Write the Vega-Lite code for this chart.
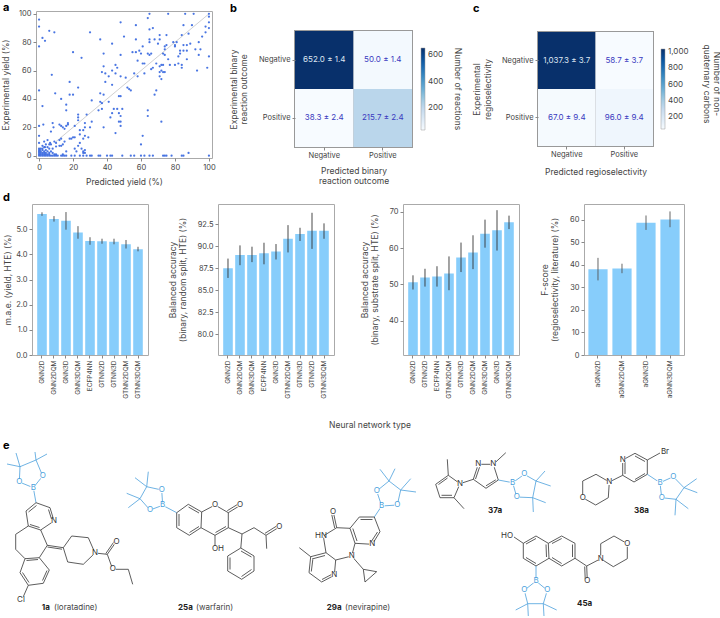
{
"$schema":"https://vega.github.io/schema/vega-lite/v6.json",
"padding":{"left":0,"top":1,"right":0,"bottom":0},
"background":"white",
"resolve":{"scale":{"color":"independent"},"legend":{"color":"independent"}},
"config":{"font":"Inter","view":{"stroke":null},
 "axis":{"labelColor":"#444","titleColor":"#444","tickColor":"#888","domain":false,"grid":false,"labelFontSize":7.5,"titleFontSize":8.5,"titleFontWeight":"normal","tickSize":3,"labelPadding":2,"labelOverlap":false}},
"datasets":{
"scatter":[
{"pred":0,"exp":96},{"pred":0,"exp":91},{"pred":0,"exp":77},{"pred":0,"exp":46},{"pred":0,"exp":21},{"pred":0,"exp":14},{"pred":0,"exp":9},{"pred":0,"exp":5},{"pred":0,"exp":4},{"pred":0,"exp":3},{"pred":0,"exp":2},{"pred":0,"exp":1},{"pred":0,"exp":0},
{"pred":2,"exp":83},{"pred":3.5,"exp":81},{"pred":6,"exp":88},{"pred":9,"exp":87},{"pred":7.5,"exp":57},{"pred":2,"exp":35},{"pred":2.5,"exp":22},{"pred":9.5,"exp":44},
{"pred":8,"exp":23},{"pred":8.5,"exp":20},{"pred":7,"exp":17},{"pred":5,"exp":11},{"pred":6.5,"exp":9},{"pred":9,"exp":10},{"pred":10,"exp":9},{"pred":3,"exp":10},{"pred":4,"exp":8},{"pred":6,"exp":8},{"pred":7,"exp":8},{"pred":2,"exp":7},{"pred":3.5,"exp":6},{"pred":5,"exp":6},{"pred":6,"exp":5},{"pred":8,"exp":5},{"pred":10,"exp":6.5},{"pred":12,"exp":7},{"pred":13,"exp":7},{"pred":14,"exp":8},{"pred":15,"exp":10},{"pred":12,"exp":11},{"pred":13,"exp":12},
{"pred":12,"exp":22},{"pred":13,"exp":21},{"pred":14,"exp":20},{"pred":15,"exp":19},{"pred":16,"exp":21},{"pred":17,"exp":22},{"pred":17,"exp":23},{"pred":13,"exp":40},{"pred":16,"exp":36},{"pred":16,"exp":32},{"pred":18,"exp":43},{"pred":18,"exp":52},{"pred":20,"exp":43},{"pred":21,"exp":21},{"pred":20,"exp":13},{"pred":18,"exp":12},{"pred":19,"exp":12},{"pred":21,"exp":13},{"pred":24,"exp":15},{"pred":26,"exp":12},{"pred":27,"exp":14},{"pred":16,"exp":3},{"pred":14,"exp":1},{"pred":21,"exp":5},{"pred":22,"exp":3},{"pred":23,"exp":7},{"pred":24,"exp":9},{"pred":25,"exp":5},{"pred":26,"exp":2},{"pred":26,"exp":3},{"pred":27,"exp":2},{"pred":27,"exp":4},
{"pred":20,"exp":73},{"pred":25,"exp":69},{"pred":30,"exp":87},{"pred":36,"exp":82},{"pred":43,"exp":79},{"pred":48,"exp":94},{"pred":50,"exp":84},{"pred":57,"exp":92},{"pred":57,"exp":82},
{"pred":23,"exp":29},{"pred":23,"exp":27},{"pred":23,"exp":25},{"pred":28,"exp":29},{"pred":27,"exp":20},{"pred":31,"exp":24},{"pred":30,"exp":20},{"pred":24,"exp":18},{"pred":29,"exp":13},{"pred":26,"exp":18},{"pred":27,"exp":23},{"pred":23,"exp":48},
{"pred":31,"exp":39},{"pred":35,"exp":32},{"pred":36,"exp":38},{"pred":37,"exp":37},{"pred":38,"exp":43},{"pred":36,"exp":44},{"pred":37,"exp":59},{"pred":38,"exp":63},{"pred":38,"exp":72},{"pred":39,"exp":58},{"pred":39,"exp":52},{"pred":41,"exp":56},{"pred":43,"exp":60},{"pred":43,"exp":50},{"pred":45,"exp":64},{"pred":46,"exp":62},{"pred":45,"exp":58},{"pred":48,"exp":71},{"pred":48,"exp":56},{"pred":48,"exp":42},{"pred":47,"exp":42},{"pred":44,"exp":33},{"pred":43,"exp":30},{"pred":42,"exp":27},{"pred":38,"exp":20},{"pred":41,"exp":38},{"pred":37,"exp":33},{"pred":45,"exp":16},{"pred":46,"exp":33},{"pred":47,"exp":30},{"pred":49,"exp":33},{"pred":48,"exp":28},{"pred":47,"exp":24},{"pred":48,"exp":24},{"pred":48,"exp":21},{"pred":52,"exp":48},{"pred":53,"exp":47},{"pred":54,"exp":46},{"pred":51,"exp":55},
{"pred":55,"exp":73},{"pred":57,"exp":73},{"pred":56,"exp":58},{"pred":58,"exp":56},{"pred":59,"exp":74},{"pred":58,"exp":67},{"pred":60,"exp":72},{"pred":61,"exp":77},{"pred":61,"exp":65},{"pred":62,"exp":65},{"pred":62,"exp":58},{"pred":60,"exp":8},{"pred":61,"exp":14},{"pred":64,"exp":32},{"pred":64,"exp":28},{"pred":64,"exp":97},{"pred":65,"exp":100},{"pred":65,"exp":89},{"pred":65,"exp":82},{"pred":65,"exp":80},{"pred":64,"exp":72},{"pred":65,"exp":71},{"pred":66,"exp":72},{"pred":67,"exp":62},{"pred":66,"exp":61},{"pred":68,"exp":82},{"pred":67,"exp":90},{"pred":68,"exp":43},{"pred":69,"exp":46},{"pred":69,"exp":65},{"pred":70,"exp":79},{"pred":71,"exp":59},{"pred":71,"exp":56},{"pred":71,"exp":63},{"pred":72,"exp":64},{"pred":73,"exp":64},{"pred":72,"exp":60},{"pred":73,"exp":59},{"pred":74,"exp":59},{"pred":72,"exp":54},{"pred":72,"exp":24},{"pred":71,"exp":82},{"pred":71,"exp":85},{"pred":73,"exp":72},{"pred":74,"exp":75},{"pred":74,"exp":77},{"pred":75,"exp":78},{"pred":75,"exp":85},{"pred":74,"exp":71},{"pred":76,"exp":100},{"pred":76,"exp":68},{"pred":77,"exp":64},{"pred":79,"exp":80},{"pred":80,"exp":78},{"pred":80,"exp":77},{"pred":81,"exp":80},{"pred":80,"exp":64},{"pred":82,"exp":65},{"pred":82,"exp":70},{"pred":83,"exp":72},{"pred":83,"exp":74},{"pred":84,"exp":64},{"pred":84,"exp":85},{"pred":84,"exp":62},{"pred":85,"exp":92},{"pred":85,"exp":74},{"pred":85,"exp":78},{"pred":87,"exp":68},{"pred":87,"exp":74},{"pred":87,"exp":78},{"pred":88,"exp":86},{"pred":89,"exp":79},{"pred":90,"exp":92},{"pred":91,"exp":100},{"pred":92,"exp":75},{"pred":93,"exp":60},{"pred":94,"exp":80},{"pred":94,"exp":71},{"pred":95,"exp":75},{"pred":96,"exp":84},{"pred":98,"exp":91},{"pred":98,"exp":87},{"pred":99,"exp":62},{"pred":100,"exp":100},{"pred":100,"exp":98},{"pred":100,"exp":94},{"pred":100,"exp":90},{"pred":100,"exp":70},{"pred":86,"exp":100},{"pred":88,"exp":2},
{"pred":1,"exp":1},{"pred":1,"exp":2},{"pred":1,"exp":3},{"pred":2,"exp":1},{"pred":2,"exp":2},{"pred":2,"exp":4},{"pred":3,"exp":1},{"pred":3,"exp":2},{"pred":3,"exp":3},{"pred":4,"exp":1},{"pred":4,"exp":2},{"pred":4,"exp":4},{"pred":5,"exp":1},{"pred":5,"exp":3},{"pred":6,"exp":1},{"pred":6,"exp":2},{"pred":7,"exp":3},{"pred":8,"exp":2},{"pred":9,"exp":1},{"pred":10,"exp":1},{"pred":1,"exp":5},{"pred":2,"exp":5},{"pred":3,"exp":6},{"pred":0.5,"exp":4},
{"pred":1,"exp":0},{"pred":2,"exp":0},{"pred":3,"exp":0},{"pred":4,"exp":0},{"pred":5,"exp":0},{"pred":6,"exp":0},{"pred":7,"exp":0},{"pred":8,"exp":0},{"pred":9,"exp":0},{"pred":10,"exp":0},{"pred":11,"exp":0},{"pred":13,"exp":0},{"pred":14,"exp":0},{"pred":15,"exp":0},{"pred":16,"exp":0},{"pred":19,"exp":0},{"pred":21,"exp":0},{"pred":24,"exp":0},{"pred":26,"exp":0},{"pred":28,"exp":0},{"pred":30,"exp":0},{"pred":31,"exp":0},{"pred":35,"exp":0},{"pred":36,"exp":0},{"pred":40,"exp":0},{"pred":42,"exp":0},{"pred":43,"exp":0},{"pred":49,"exp":0},{"pred":54,"exp":0},{"pred":56,"exp":0},{"pred":60,"exp":0},{"pred":62,"exp":0},{"pred":65,"exp":0},{"pred":67,"exp":0},{"pred":73,"exp":0},{"pred":74,"exp":0},{"pred":75,"exp":0},{"pred":78,"exp":0},{"pred":84,"exp":0},{"pred":85,"exp":0},{"pred":100,"exp":0}
],
"bonds":[
{"x":33.3,"y":486.7,"x2":19.3,"y2":481,"part":"boronate"},{"x":33.3,"y":486.7,"x2":42.7,"y2":475,"part":"boronate"},{"x":19.3,"y":481,"x2":20,"y2":465.7,"part":"boronate"},{"x":42.7,"y":475,"x2":36,"y2":459,"part":"boronate"},{"x":20,"y":465.7,"x2":36,"y2":459,"part":"boronate"},{"x":20,"y":465.7,"x2":7,"y2":463,"part":"boronate"},{"x":20,"y":465.7,"x2":16,"y2":452,"part":"boronate"},{"x":36,"y":459,"x2":47,"y2":453,"part":"boronate"},{"x":36,"y":459,"x2":35,"y2":451,"part":"boronate"},{"x":33.3,"y":486.7,"x2":36,"y2":501.7,"part":"boronate"},
{"x":36,"y":501.7,"x2":50,"y2":506.7,"part":"core"},{"x":50,"y":506.7,"x2":54,"y2":520,"part":"core"},{"x":54,"y":520,"x2":40.7,"y2":529,"part":"core"},{"x":40.7,"y":529,"x2":28.3,"y2":525,"part":"core"},{"x":28.3,"y":525,"x2":26,"y2":510,"part":"core"},{"x":26,"y":510,"x2":36,"y2":501.7,"part":"core"},{"x":28.5,"y":511,"x2":36.5,"y2":504.5,"part":"core"},{"x":48.5,"y":508.5,"x2":51.5,"y2":518,"part":"core"},{"x":39.5,"y":526.5,"x2":30,"y2":523.5,"part":"core"},
{"x":28.3,"y":525,"x2":15.7,"y2":533.3,"part":"core"},{"x":15.7,"y":533.3,"x2":15.7,"y2":548.3,"part":"core"},{"x":15.7,"y":548.3,"x2":25,"y2":557.7,"part":"core"},{"x":40.7,"y":529,"x2":47.3,"y2":544.3,"part":"core"},{"x":47.3,"y":544.3,"x2":39.3,"y2":556.7,"part":"core"},{"x":47.3,"y":544.3,"x2":63.3,"y2":546.7,"part":"core"},{"x":47.5,"y":546,"x2":62,"y2":548.2,"part":"core"},
{"x":63.3,"y":546.7,"x2":71.7,"y2":535,"part":"core"},{"x":71.7,"y":535,"x2":88.3,"y2":536.7,"part":"core"},{"x":88.3,"y":536.7,"x2":95,"y2":552,"part":"core"},{"x":95,"y":552,"x2":83.3,"y2":563.3,"part":"core"},{"x":83.3,"y":563.3,"x2":67.7,"y2":561,"part":"core"},{"x":67.7,"y":561,"x2":63.3,"y2":546.7,"part":"core"},{"x":95,"y":552,"x2":107.3,"y2":553.3,"part":"core"},{"x":107.3,"y":553.3,"x2":116,"y2":541,"part":"core"},{"x":105.8,"y":552.5,"x2":114.5,"y2":540,"part":"core"},{"x":107.3,"y":553.3,"x2":112.7,"y2":568.3,"part":"core"},{"x":112.7,"y":568.3,"x2":128.3,"y2":568.3,"part":"core"},{"x":128.3,"y":568.3,"x2":132.7,"y2":583.3,"part":"core"},
{"x":25,"y":557.7,"x2":39.3,"y2":556.7,"part":"core"},{"x":39.3,"y":556.7,"x2":49.3,"y2":569,"part":"core"},{"x":49.3,"y":569,"x2":43.3,"y2":582.3,"part":"core"},{"x":43.3,"y":582.3,"x2":28.3,"y2":584.3,"part":"core"},{"x":28.3,"y":584.3,"x2":20,"y2":571.7,"part":"core"},{"x":20,"y":571.7,"x2":25,"y2":557.7,"part":"core"},{"x":26.5,"y":559.5,"x2":38,"y2":558.5,"part":"core"},{"x":47,"y":569.5,"x2":42.5,"y2":579.5,"part":"core"},{"x":29,"y":581.5,"x2":22.5,"y2":571.5,"part":"core"},{"x":28.3,"y":584.3,"x2":23.3,"y2":595.7,"part":"core"},
{"x":162.7,"y":504.3,"x2":150,"y2":509,"part":"boronate"},{"x":162.7,"y":504.3,"x2":161.7,"y2":489,"part":"boronate"},{"x":150,"y":509,"x2":140,"y2":497.7,"part":"boronate"},{"x":161.7,"y":489,"x2":146.7,"y2":485.7,"part":"boronate"},{"x":140,"y":497.7,"x2":146.7,"y2":485.7,"part":"boronate"},{"x":140,"y":497.7,"x2":126.7,"y2":492.3,"part":"boronate"},{"x":140,"y":497.7,"x2":128.3,"y2":506.7,"part":"boronate"},{"x":146.7,"y":485.7,"x2":135,"y2":476.7,"part":"boronate"},{"x":146.7,"y":485.7,"x2":148.3,"y2":470.7,"part":"boronate"},{"x":162.7,"y":504.3,"x2":176.7,"y2":511.7,"part":"boronate"},
{"x":176.7,"y":511.7,"x2":188.3,"y2":503.3,"part":"core"},{"x":188.3,"y":503.3,"x2":201.7,"y2":511,"part":"core"},{"x":201.7,"y":511,"x2":201,"y2":526.7,"part":"core"},{"x":201,"y":526.7,"x2":189.3,"y2":534.3,"part":"core"},{"x":189.3,"y":534.3,"x2":176.7,"y2":526.7,"part":"core"},{"x":176.7,"y":526.7,"x2":176.7,"y2":511.7,"part":"core"},{"x":188.5,"y":506,"x2":199,"y2":512,"part":"core"},{"x":199,"y":525.5,"x2":189.5,"y2":531.5,"part":"core"},{"x":179,"y":525,"x2":179,"y2":513,"part":"core"},
{"x":201.7,"y":511,"x2":215,"y2":504,"part":"core"},{"x":215,"y":504,"x2":228.3,"y2":511.7,"part":"core"},{"x":228.3,"y":511.7,"x2":228.3,"y2":526.7,"part":"core"},{"x":228.3,"y":526.7,"x2":215,"y2":534.3,"part":"core"},{"x":226,"y":525.5,"x2":215.5,"y2":531.5,"part":"core"},{"x":215,"y":534.3,"x2":201,"y2":526.7,"part":"core"},{"x":228.3,"y":511.7,"x2":240,"y2":504.5,"part":"core"},{"x":227.3,"y":509.7,"x2":239,"y2":502.5,"part":"core"},{"x":215,"y":534.3,"x2":215,"y2":545,"part":"core"},
{"x":228.3,"y":526.7,"x2":242,"y2":533,"part":"core"},{"x":242,"y":533,"x2":254,"y2":526.7,"part":"core"},{"x":254,"y":526.7,"x2":266,"y2":534.3,"part":"core"},{"x":266,"y":534.3,"x2":279.3,"y2":526,"part":"core"},{"x":265,"y":532.3,"x2":278.3,"y2":524,"part":"core"},{"x":266,"y":534.3,"x2":266.7,"y2":547.7,"part":"core"},{"x":242,"y":533,"x2":240.8,"y2":547,"part":"core"},
{"x":240.8,"y":547,"x2":254,"y2":555,"part":"core"},{"x":254,"y":555,"x2":254,"y2":570,"part":"core"},{"x":254,"y":570,"x2":241.7,"y2":578.3,"part":"core"},{"x":241.7,"y":578.3,"x2":227.7,"y2":570,"part":"core"},{"x":227.7,"y":570,"x2":227.7,"y2":555,"part":"core"},{"x":227.7,"y":555,"x2":240.8,"y2":547,"part":"core"},{"x":241,"y":550,"x2":251.5,"y2":556,"part":"core"},{"x":251.5,"y":568.5,"x2":241.5,"y2":575.5,"part":"core"},{"x":230,"y":568.5,"x2":230,"y2":556.5,"part":"core"},
{"x":381.7,"y":505,"x2":376.7,"y2":490,"part":"boronate"},{"x":381.7,"y":505,"x2":397.3,"y2":504,"part":"boronate"},{"x":376.7,"y":490,"x2":389,"y2":480,"part":"boronate"},{"x":397.3,"y":504,"x2":400.7,"y2":489,"part":"boronate"},{"x":389,"y":480,"x2":400.7,"y2":489,"part":"boronate"},{"x":389,"y":480,"x2":380,"y2":468.3,"part":"boronate"},{"x":389,"y":480,"x2":395,"y2":467.7,"part":"boronate"},{"x":400.7,"y":489,"x2":410.7,"y2":477.7,"part":"boronate"},{"x":400.7,"y":489,"x2":416,"y2":491,"part":"boronate"},{"x":381.7,"y":505,"x2":374.3,"y2":516,"part":"boronate"},
{"x":374.3,"y":516,"x2":380,"y2":530.7,"part":"core"},{"x":380,"y":530.7,"x2":372.3,"y2":543.3,"part":"core"},{"x":372.3,"y":543.3,"x2":355,"y2":542.3,"part":"core"},{"x":355,"y":542.3,"x2":350,"y2":527.3,"part":"core"},{"x":350,"y":527.3,"x2":359.3,"y2":516,"part":"core"},{"x":359.3,"y":516,"x2":374.3,"y2":516,"part":"core"},{"x":360.5,"y":518.5,"x2":372.5,"y2":518.5,"part":"core"},{"x":377.5,"y":531,"x2":371,"y2":541,"part":"core"},{"x":357,"y":540,"x2":352.8,"y2":527.5,"part":"core"},
{"x":350,"y":527.3,"x2":336.7,"y2":526.7,"part":"core"},{"x":336.7,"y":526.7,"x2":333.3,"y2":511,"part":"core"},{"x":334.7,"y":527,"x2":331.3,"y2":511.5,"part":"core"},{"x":336.7,"y":526.7,"x2":323.3,"y2":535,"part":"core"},{"x":323.3,"y":535,"x2":326,"y2":551.7,"part":"core"},{"x":355,"y":542.3,"x2":351.7,"y2":555,"part":"core"},{"x":351.7,"y":555,"x2":335.7,"y2":559,"part":"core"},
{"x":326,"y":551.7,"x2":335.7,"y2":559,"part":"core"},{"x":335.7,"y":559,"x2":334.3,"y2":574.3,"part":"core"},{"x":334.3,"y":574.3,"x2":321.7,"y2":581,"part":"core"},{"x":321.7,"y":581,"x2":309,"y2":571.7,"part":"core"},{"x":309,"y":571.7,"x2":310.7,"y2":555.7,"part":"core"},{"x":310.7,"y":555.7,"x2":326,"y2":551.7,"part":"core"},{"x":312,"y":558,"x2":325,"y2":554.5,"part":"core"},{"x":331.5,"y":573.5,"x2":322,"y2":578.5,"part":"core"},{"x":311.3,"y":570.5,"x2":312.8,"y2":558.5,"part":"core"},{"x":310.7,"y":555.7,"x2":299.3,"y2":546.7,"part":"core"},{"x":351.7,"y":555,"x2":363.3,"y2":568.3,"part":"core"},{"x":363.3,"y":568.3,"x2":376.7,"y2":570.7,"part":"core"},{"x":376.7,"y":570.7,"x2":365,"y2":581,"part":"core"},{"x":365,"y":581,"x2":363.3,"y2":568.3,"part":"core"},
{"x":460,"y":482.7,"x2":448.3,"y2":474.3,"part":"core"},{"x":448.3,"y":474.3,"x2":435.7,"y2":483.3,"part":"core"},{"x":435.7,"y":483.3,"x2":440,"y2":496.7,"part":"core"},{"x":440,"y":496.7,"x2":454,"y2":496.7,"part":"core"},{"x":454,"y":496.7,"x2":460,"y2":482.7,"part":"core"},{"x":447.5,"y":477,"x2":438.5,"y2":483.5,"part":"core"},{"x":441.5,"y":494.3,"x2":452,"y2":494.3,"part":"core"},{"x":448.3,"y":474.3,"x2":447.3,"y2":458.3,"part":"core"},{"x":454,"y":496.7,"x2":464,"y2":507.7,"part":"core"},{"x":460,"y":482.7,"x2":473.3,"y2":478.3,"part":"core"},
{"x":473.3,"y":478.3,"x2":478.3,"y2":463.3,"part":"core"},{"x":475.5,"y":478,"x2":480.3,"y2":464,"part":"core"},{"x":478.3,"y":463.3,"x2":493.3,"y2":463.3,"part":"core"},{"x":493.3,"y":463.3,"x2":498.3,"y2":479,"part":"core"},{"x":498.3,"y":479,"x2":486,"y2":487.3,"part":"core"},{"x":495.8,"y":478.8,"x2":486,"y2":484.8,"part":"core"},{"x":486,"y":487.3,"x2":473.3,"y2":478.3,"part":"core"},{"x":493.3,"y":463.3,"x2":505.8,"y2":451.7,"part":"core"},
{"x":498.3,"y":479,"x2":512.7,"y2":481.7,"part":"boronate"},{"x":512.7,"y":481.7,"x2":524.3,"y2":473.3,"part":"boronate"},{"x":512.7,"y":481.7,"x2":516.7,"y2":496,"part":"boronate"},{"x":524.3,"y":473.3,"x2":536,"y2":480,"part":"boronate"},{"x":516.7,"y":496,"x2":532.7,"y2":496.7,"part":"boronate"},{"x":536,"y":480,"x2":532.7,"y2":496.7,"part":"boronate"},{"x":536,"y":480,"x2":545,"y2":470,"part":"boronate"},{"x":536,"y":480,"x2":550.7,"y2":485,"part":"boronate"},{"x":532.7,"y":496.7,"x2":545.7,"y2":501.7,"part":"boronate"},{"x":532.7,"y":496.7,"x2":533.3,"y2":511,"part":"boronate"},
{"x":582.7,"y":496.7,"x2":582.7,"y2":480,"part":"core"},{"x":582.7,"y":480,"x2":596,"y2":473.3,"part":"core"},{"x":596,"y":473.3,"x2":609.3,"y2":481,"part":"core"},{"x":609.3,"y":481,"x2":608.3,"y2":496.7,"part":"core"},{"x":608.3,"y":496.7,"x2":595.7,"y2":504,"part":"core"},{"x":595.7,"y":504,"x2":582.7,"y2":496.7,"part":"core"},{"x":609.3,"y":481,"x2":622.7,"y2":474.3,"part":"core"},
{"x":622.7,"y":474.3,"x2":634,"y2":481,"part":"core"},{"x":634,"y":481,"x2":647.3,"y2":473.3,"part":"core"},{"x":647.3,"y":473.3,"x2":647.3,"y2":459,"part":"core"},{"x":647.3,"y":459,"x2":635,"y2":452.3,"part":"core"},{"x":635,"y":452.3,"x2":622.7,"y2":459,"part":"core"},{"x":622.7,"y":459,"x2":622.7,"y2":474.3,"part":"core"},{"x":635,"y":478.5,"x2":645,"y2":472.5,"part":"core"},{"x":645,"y":460.5,"x2":635,"y2":455,"part":"core"},{"x":625,"y":461,"x2":625,"y2":473,"part":"core"},{"x":647.3,"y":459,"x2":660,"y2":452,"part":"core"},
{"x":647.3,"y":473.3,"x2":660,"y2":481.7,"part":"boronate"},{"x":660,"y":481.7,"x2":673.3,"y2":475.7,"part":"boronate"},{"x":660,"y":481.7,"x2":661.7,"y2":496.7,"part":"boronate"},{"x":673.3,"y":475.7,"x2":684,"y2":486.7,"part":"boronate"},{"x":661.7,"y":496.7,"x2":676,"y2":498.3,"part":"boronate"},{"x":684,"y":486.7,"x2":676,"y2":498.3,"part":"boronate"},{"x":684,"y":486.7,"x2":696.7,"y2":477.7,"part":"boronate"},{"x":684,"y":486.7,"x2":697.3,"y2":491.7,"part":"boronate"},{"x":676,"y":498.3,"x2":688.3,"y2":507.7,"part":"boronate"},{"x":676,"y":498.3,"x2":675,"y2":514.3,"part":"boronate"},
{"x":523.3,"y":542.3,"x2":536,"y2":535,"part":"core"},{"x":536,"y":535,"x2":548.3,"y2":542.3,"part":"core"},{"x":548.3,"y":542.3,"x2":549,"y2":557.3,"part":"core"},{"x":549,"y":557.3,"x2":536,"y2":565,"part":"core"},{"x":536,"y":565,"x2":523.3,"y2":557.3,"part":"core"},{"x":523.3,"y":557.3,"x2":523.3,"y2":542.3,"part":"core"},{"x":526,"y":543,"x2":536,"y2":537.5,"part":"core"},{"x":546,"y":543.5,"x2":546.5,"y2":556,"part":"core"},{"x":536,"y":562.5,"x2":526,"y2":556.5,"part":"core"},
{"x":548.3,"y":542.3,"x2":561.7,"y2":535,"part":"core"},{"x":561.7,"y":535,"x2":575,"y2":542.3,"part":"core"},{"x":575,"y":542.3,"x2":575,"y2":557.3,"part":"core"},{"x":575,"y":557.3,"x2":561.7,"y2":565,"part":"core"},{"x":561.7,"y":565,"x2":549,"y2":557.3,"part":"core"},{"x":552,"y":542.5,"x2":561.7,"y2":537.5,"part":"core"},{"x":572.5,"y":543.5,"x2":572.5,"y2":556,"part":"core"},{"x":561.7,"y":562.5,"x2":552,"y2":556.5,"part":"core"},{"x":523.3,"y":542.3,"x2":514,"y2":536,"part":"core"},
{"x":536,"y":565,"x2":536,"y2":580,"part":"boronate"},{"x":536,"y":580,"x2":524.3,"y2":589.3,"part":"boronate"},{"x":536,"y":580,"x2":547.3,"y2":589.3,"part":"boronate"},{"x":524.3,"y":589.3,"x2":527.7,"y2":602.7,"part":"boronate"},{"x":547.3,"y":589.3,"x2":543.3,"y2":602.7,"part":"boronate"},{"x":527.7,"y":602.7,"x2":543.3,"y2":602.7,"part":"boronate"},{"x":527.7,"y":602.7,"x2":515.7,"y2":609,"part":"boronate"},{"x":527.7,"y":602.7,"x2":528.3,"y2":615,"part":"boronate"},{"x":543.3,"y":602.7,"x2":556.7,"y2":609,"part":"boronate"},{"x":543.3,"y":602.7,"x2":544,"y2":615,"part":"boronate"},
{"x":575,"y":557.3,"x2":586.7,"y2":565,"part":"core"},{"x":586.7,"y":565,"x2":587.3,"y2":580,"part":"core"},{"x":584.7,"y":565.5,"x2":585.3,"y2":580,"part":"core"},{"x":586.7,"y":565,"x2":600.7,"y2":557.7,"part":"core"},{"x":600.7,"y":557.7,"x2":600.7,"y2":542.7,"part":"core"},{"x":600.7,"y":542.7,"x2":614,"y2":535,"part":"core"},{"x":614,"y":535,"x2":627.3,"y2":542.7,"part":"core"},{"x":627.3,"y":542.7,"x2":627.3,"y2":557.7,"part":"core"},{"x":627.3,"y":557.7,"x2":613.3,"y2":565.7,"part":"core"},{"x":613.3,"y":565.7,"x2":600.7,"y2":557.7,"part":"core"}
],
"atoms":[
{"t":"B","x":33.3,"y":486.7,"part":"boronate"},{"t":"O","x":19.3,"y":481,"part":"boronate"},{"t":"O","x":42.7,"y":475,"part":"boronate"},{"t":"N","x":54,"y":520,"part":"core"},{"t":"N","x":95,"y":552,"part":"core"},{"t":"O","x":116.5,"y":541,"part":"core"},{"t":"O","x":112.7,"y":568.3,"part":"core"},{"t":"Cl","x":21,"y":599,"part":"core"},
{"t":"B","x":162.7,"y":504.3,"part":"boronate"},{"t":"O","x":150,"y":509,"part":"boronate"},{"t":"O","x":161.7,"y":489,"part":"boronate"},{"t":"O","x":215,"y":504,"part":"core"},{"t":"O","x":240,"y":504,"part":"core"},{"t":"OH","x":218,"y":548,"part":"core"},{"t":"O","x":279.3,"y":526,"part":"core"},
{"t":"B","x":381.7,"y":505,"part":"boronate"},{"t":"O","x":376.7,"y":490,"part":"boronate"},{"t":"O","x":397.3,"y":504,"part":"boronate"},{"t":"N","x":372.3,"y":543.3,"part":"core"},{"t":"O","x":333,"y":511,"part":"core"},{"t":"HN","x":321,"y":535,"part":"core"},{"t":"N","x":351.7,"y":555,"part":"core"},{"t":"N","x":334.3,"y":574.3,"part":"core"},
{"t":"N","x":460,"y":482.7,"part":"core"},{"t":"N","x":478.3,"y":463.3,"part":"core"},{"t":"N","x":493.3,"y":463.3,"part":"core"},{"t":"B","x":512.7,"y":481.7,"part":"boronate"},{"t":"O","x":524.3,"y":473.3,"part":"boronate"},{"t":"O","x":516.7,"y":496,"part":"boronate"},
{"t":"O","x":582.7,"y":496.7,"part":"core"},{"t":"N","x":609.3,"y":481,"part":"core"},{"t":"N","x":622.7,"y":459,"part":"core"},{"t":"Br","x":665,"y":451,"part":"core"},{"t":"B","x":660,"y":481.7,"part":"boronate"},{"t":"O","x":673.3,"y":475.7,"part":"boronate"},{"t":"O","x":661.7,"y":496.7,"part":"boronate"},
{"t":"HO","x":507,"y":535,"part":"core"},{"t":"B","x":536,"y":580,"part":"boronate"},{"t":"O","x":524.3,"y":589.3,"part":"boronate"},{"t":"O","x":547.3,"y":589.3,"part":"boronate"},{"t":"O","x":587.3,"y":580,"part":"core"},{"t":"N","x":600.7,"y":557.7,"part":"core"},{"t":"O","x":627.3,"y":542.7,"part":"core"}
],
"compound":[{"t":"1a","x":41.7,"y":607},{"t":"25a","x":178,"y":607},{"t":"29a","x":326.7,"y":607},{"t":"37a","x":488,"y":510},{"t":"38a","x":634,"y":510},{"t":"45a","x":577,"y":603}],
"drug":[{"t":"(loratadine)","x":54,"y":607},{"t":"(warfarin)","x":196,"y":607},{"t":"(nevirapine)","x":345,"y":607}],
"note":[{"t":"Neural network type","x":370,"y":424}],
"hteMae":[{"model":"GNN2D","value":5.6,"lo":5.53,"hi":5.67},{"model":"GNN2DQM","value":5.4,"lo":5.3,"hi":5.52},{"model":"GNN3D","value":5.33,"lo":4.98,"hi":5.68},{"model":"GNN3DQM","value":4.87,"lo":4.62,"hi":5.12},{"model":"ECFP4NN","value":4.53,"lo":4.38,"hi":4.68},{"model":"GTNN2D","value":4.52,"lo":4.42,"hi":4.62},{"model":"GTNN3D","value":4.5,"lo":4.4,"hi":4.62},{"model":"GTNN2DQM","value":4.4,"lo":4.23,"hi":4.57},{"model":"GTNN3DQM","value":4.2,"lo":4.12,"hi":4.3}],
"randomAcc":[{"model":"GNN2D","value":87.5,"lo":86.4,"hi":88.6},{"model":"GNN2DQM","value":89,"lo":87.85,"hi":90.1},{"model":"GNN3DQM","value":89,"lo":88.2,"hi":89.95},{"model":"ECFP4NN","value":89.2,"lo":87.95,"hi":90.4},{"model":"GNN3D","value":89.4,"lo":88.5,"hi":90.25},{"model":"GTNN2DQM","value":90.85,"lo":89.3,"hi":92.4},{"model":"GTNN3D","value":91.4,"lo":90.6,"hi":92.1},{"model":"GTNN2D","value":91.75,"lo":89.7,"hi":93.8},{"model":"GTNN3DQM","value":91.75,"lo":90.85,"hi":92.6}],
"substrateAcc":[{"model":"GNN2D","value":50.6,"lo":48.6,"hi":52.5},{"model":"GTNN2D","value":51.9,"lo":49.4,"hi":54.3},{"model":"ECFP4NN","value":52.2,"lo":49.4,"hi":55},{"model":"GTNN2DQM","value":53,"lo":48.4,"hi":57.7},{"model":"GTNN3D","value":57.4,"lo":53.4,"hi":61.5},{"model":"GNN2DQM","value":58.8,"lo":54.2,"hi":63.5},{"model":"GNN3DQM","value":63.9,"lo":60.1,"hi":67.8},{"model":"GNN3D","value":64.9,"lo":59.3,"hi":70.4},{"model":"GTNN3DQM","value":67.1,"lo":65.2,"hi":68.9}],
"fscore":[{"model":"aGNN2D","value":38,"lo":33.1,"hi":43.1},{"model":"aGNN2DQM","value":38.4,"lo":36.3,"hi":40.5},{"model":"aGNN3D","value":58.7,"lo":55.5,"hi":61.9},{"model":"aGNN3DQM","value":60.1,"lo":56.7,"hi":63.7}]
},
"vconcat":[
{"bounds":"flush","spacing":0,"resolve":{"scale":{"color":"independent"},"legend":{"color":"independent"}},"hconcat":[
{"width":36,"height":1,"data":{"values":[{"v":0}]},"mark":{"type":"point","opacity":0},"encoding":{}},
{"width":176,"height":147,"view":{"stroke":"#aaa","strokeWidth":1},
 "title":{"text":"a","anchor":"start","frame":"group","dx":-33,"offset":-3,"fontSize":11,"fontWeight":"bold","color":"#000"},
 "layer":[
 {"data":{"values":[{"pred":10,"exp":10},{"pred":100,"exp":100}]},"mark":{"type":"line","color":"#c4c4c4","strokeWidth":0.8},"encoding":{"x":{"field":"pred","type":"quantitative"},"y":{"field":"exp","type":"quantitative"}}},
 {"data":{"name":"scatter"},"mark":{"type":"circle","size":5,"color":"#3f6ee0","opacity":0.95},
  "encoding":{"x":{"field":"pred","type":"quantitative","scale":{"domain":[-1.8,101.8],"nice":false,"zero":false},"axis":{"values":[0,20,40,60,80,100],"tickCount":20,"title":"Predicted yield (%)","titlePadding":7}},
  "y":{"field":"exp","type":"quantitative","scale":{"domain":[-1.6,102],"nice":false,"zero":false},"axis":{"values":[0,20,40,60,80,100],"tickCount":20,"title":"Experimental yield (%)","titlePadding":8}}}}
 ]},
{"width":83,"height":1,"data":{"values":[{"v":0}]},"mark":{"type":"point","opacity":0},"encoding":{}},
{"width":117,"height":147,
 "title":{"text":"b","anchor":"start","frame":"group","dx":-65,"offset":-3,"fontSize":11,"fontWeight":"bold","color":"#000"},
 "data":{"values":[{"pred":"Negative","actual":"Negative","count":652,"text":"652.0 ± 1.4"},{"pred":"Positive","actual":"Negative","count":50,"text":"50.0 ± 1.4"},{"pred":"Negative","actual":"Positive","count":38.3,"text":"38.3 ± 2.4"},{"pred":"Positive","actual":"Positive","count":215.7,"text":"215.7 ± 2.4"}]},
 "encoding":{"x":{"field":"pred","type":"nominal","sort":null,"scale":{"paddingInner":0,"paddingOuter":0},"axis":{"labelAngle":0,"offset":-11,"labelPadding":1,"title":["Predicted binary","reaction outcome"],"titlePadding":8,"titleLineHeight":10}},
  "y":{"field":"actual","type":"nominal","sort":null,"scale":{"range":[20,136],"paddingInner":0,"paddingOuter":0},"axis":{"labelPadding":2,"title":["Experimental binary","reaction outcome"],"titleLineHeight":10,"titlePadding":10}}},
 "layer":[
 {"mark":{"type":"rect","stroke":"#999","strokeWidth":2,"fill":"#fff"}},
 {"mark":{"type":"rect"},"encoding":{"color":{"field":"count","type":"quantitative","scale":{"domain":[38.3,652],"range":["#f7fbff","#deebf7","#c6dbef","#9ecae1","#6baed6","#4292c6","#2171b5","#08519c","#08306b"]},
   "legend":{"orient":"none","legendX":126,"legendY":37,"gradientLength":82,"gradientThickness":4,"gradientStrokeColor":"#999","gradientStrokeWidth":0.5,"values":[200,400,600],"labelFontSize":8,"labelColor":"#444","labelOffset":3,"title":"Number of reactions","titleOrient":"right","titleAngle":90,"titleFontSize":8.5,"titleFontWeight":"normal","titleColor":"#444","titleAnchor":"middle","titleAlign":"center","titleBaseline":"bottom","titlePadding":10}}}},
 {"mark":{"type":"text","fontSize":8},"encoding":{"text":{"field":"text"},"color":{"condition":{"test":"datum.count>500","value":"#dfe6f2"},"value":"#3a3ac0"}}}
 ]},
{"width":126,"height":1,"data":{"values":[{"v":0}]},"mark":{"type":"point","opacity":0},"encoding":{}},
{"width":115,"height":147,
 "title":{"text":"c","anchor":"start","frame":"group","dx":-65,"offset":-3,"fontSize":11,"fontWeight":"bold","color":"#000"},
 "data":{"values":[{"pred":"Negative","actual":"Negative","count":1037.3,"text":"1,037.3 ± 3.7"},{"pred":"Positive","actual":"Negative","count":58.7,"text":"58.7 ± 3.7"},{"pred":"Negative","actual":"Positive","count":67,"text":"67.0 ± 9.4"},{"pred":"Positive","actual":"Positive","count":96,"text":"96.0 ± 9.4"}]},
 "encoding":{"x":{"field":"pred","type":"nominal","sort":null,"scale":{"paddingInner":0,"paddingOuter":0},"axis":{"labelAngle":0,"offset":-12,"labelPadding":1,"title":"Predicted regioselectivity","titlePadding":10}},
  "y":{"field":"actual","type":"nominal","sort":null,"scale":{"range":[21,135],"paddingInner":0,"paddingOuter":0},"axis":{"labelPadding":2,"title":["Experimental","regioselectivity"],"titleLineHeight":11,"titlePadding":9}}},
 "layer":[
 {"mark":{"type":"rect","stroke":"#999","strokeWidth":2,"fill":"#fff"}},
 {"mark":{"type":"rect"},"encoding":{"color":{"field":"count","type":"quantitative","scale":{"domain":[58.7,1037.3],"range":["#f7fbff","#deebf7","#c6dbef","#9ecae1","#6baed6","#4292c6","#2171b5","#08519c","#08306b"]},
   "legend":{"orient":"none","legendX":123,"legendY":38,"gradientLength":80,"gradientThickness":4,"gradientStrokeColor":"#999","gradientStrokeWidth":0.5,"values":[200,400,600,800,1000],"labelFontSize":8,"labelColor":"#444","labelOffset":3,"title":["Number of non-","quaternary carbons"],"titleOrient":"right","titleAngle":90,"titleFontSize":8.5,"titleFontWeight":"normal","titleColor":"#444","titleAnchor":"middle","titleAlign":"center","titleBaseline":"bottom","titleLineHeight":10,"titlePadding":24}}}},
 {"mark":{"type":"text","fontSize":8},"encoding":{"text":{"field":"text"},"color":{"condition":{"test":"datum.count>500","value":"#dfe6f2"},"value":"#3a3ac0"}}}
 ]}
]},
{"bounds":"flush","spacing":0,"hconcat":[
{"width":32,"height":1,"data":{"values":[{"v":0}]},"mark":{"type":"point","opacity":0},"encoding":{}},
{"width":116,"height":151,"view":{"stroke":"#aaa","strokeWidth":1},
 "title":{"text":"d","anchor":"start","frame":"group","dx":-29,"offset":1,"fontSize":11,"fontWeight":"bold","color":"#000"},
 "data":{"name":"hteMae"},
 "encoding":{"x":{"field":"model","type":"nominal","sort":null,"scale":{"paddingInner":0.2,"paddingOuter":0.433},"axis":{"labelAngle":-90,"labelFontSize":6.5,"title":null}}},
 "layer":[
 {"mark":{"type":"bar","color":"#87cdfb"},"encoding":{"y":{"field":"value","type":"quantitative","scale":{"domain":[0,6],"nice":false},"axis":{"values":[0,1,2,3,4,5],"tickCount":20,"title":"m.a.e. (yield, HTE) (%)","titlePadding":3}}}},
 {"mark":{"type":"rule","color":"#444","strokeWidth":0.9},"encoding":{"y":{"field":"lo","type":"quantitative"},"y2":{"field":"hi"}}}
 ]},
{"width":70,"height":1,"data":{"values":[{"v":0}]},"mark":{"type":"point","opacity":0},"encoding":{}},
{"width":116,"height":151,"view":{"stroke":"#aaa","strokeWidth":1},
 "data":{"name":"randomAcc"},
 "encoding":{"x":{"field":"model","type":"nominal","sort":null,"scale":{"paddingInner":0.2,"paddingOuter":0.433},"axis":{"labelAngle":-90,"labelFontSize":6.5,"title":null}}},
 "layer":[
 {"mark":{"type":"bar","color":"#87cdfb","clip":true},"encoding":{"y":{"field":"value","type":"quantitative","scale":{"domain":[77.65,94.8],"nice":false,"zero":false},"axis":{"values":[80,82.5,85,87.5,90,92.5],"tickCount":20,"format":".1f","title":["Balanced accuracy","(binary, random split, HTE) (%)"],"titleLineHeight":10,"titlePadding":10}}}},
 {"mark":{"type":"rule","color":"#333","strokeWidth":0.9},"encoding":{"y":{"field":"lo","type":"quantitative"},"y2":{"field":"hi"}}}
 ]},
{"width":69,"height":1,"data":{"values":[{"v":0}]},"mark":{"type":"point","opacity":0},"encoding":{}},
{"width":116,"height":151,"view":{"stroke":"#aaa","strokeWidth":1},
 "data":{"name":"substrateAcc"},
 "encoding":{"x":{"field":"model","type":"nominal","sort":null,"scale":{"paddingInner":0.2,"paddingOuter":0.433},"axis":{"labelAngle":-90,"labelFontSize":6.5,"title":null}}},
 "layer":[
 {"mark":{"type":"bar","color":"#87cdfb","clip":true},"encoding":{"y":{"field":"value","type":"quantitative","scale":{"domain":[30.6,72.1],"nice":false,"zero":false},"axis":{"values":[40,50,60,70],"tickCount":20,"title":["Balanced accuracy","(binary, substrate split, HTE) (%)"],"titleLineHeight":10,"titlePadding":9}}}},
 {"mark":{"type":"rule","color":"#333","strokeWidth":0.9},"encoding":{"y":{"field":"lo","type":"quantitative"},"y2":{"field":"hi"}}}
 ]},
{"width":65,"height":1,"data":{"values":[{"v":0}]},"mark":{"type":"point","opacity":0},"encoding":{}},
{"width":100,"height":151,"view":{"stroke":"#aaa","strokeWidth":1},
 "data":{"name":"fscore"},
 "encoding":{"x":{"field":"model","type":"nominal","sort":null,"scale":{"paddingInner":0.2,"paddingOuter":0.183},"axis":{"labelAngle":-90,"labelFontSize":6.5,"title":null}}},
 "layer":[
 {"mark":{"type":"bar","color":"#87cdfb"},"encoding":{"y":{"field":"value","type":"quantitative","scale":{"domain":[0,67],"nice":false},"axis":{"values":[0,10,20,30,40,50,60],"tickCount":20,"title":["F-score","(regioselectivity, literature) (%)"],"titleLineHeight":10,"titlePadding":10}}}},
 {"mark":{"type":"rule","color":"#555","strokeWidth":0.9},"encoding":{"y":{"field":"lo","type":"quantitative"},"y2":{"field":"hi"}}}
 ]}
]},
{"width":720,"height":216,
 "title":{"text":"e","anchor":"start","frame":"group","dx":3,"offset":-48,"fontSize":11,"fontWeight":"bold","color":"#000"},
 "layer":[
 {"data":{"name":"bonds"},"mark":{"type":"rule","strokeWidth":0.8},"encoding":{
   "x":{"field":"x","type":"quantitative","scale":{"domain":[0,720],"nice":false,"zero":false},"axis":null},
   "y":{"field":"y","type":"quantitative","scale":{"domain":[402,618],"reverse":true,"nice":false,"zero":false},"axis":null},
   "x2":{"field":"x2"},"y2":{"field":"y2"},
   "color":{"field":"part","type":"nominal","scale":{"domain":["core","boronate"],"range":["#333333","#4a9fdc"]},"legend":null}}},
 {"data":{"name":"atoms"},"mark":{"type":"circle","size":38,"color":"#fff","opacity":1},"encoding":{"x":{"field":"x","type":"quantitative"},"y":{"field":"y","type":"quantitative"}}},
 {"data":{"name":"atoms"},"mark":{"type":"text","fontSize":8},"encoding":{"x":{"field":"x","type":"quantitative"},"y":{"field":"y","type":"quantitative"},"text":{"field":"t"},"color":{"field":"part","type":"nominal","legend":null}}},
 {"data":{"name":"compound"},"mark":{"type":"text","fontSize":8,"fontWeight":"bold","align":"left","color":"#222"},"encoding":{"x":{"field":"x","type":"quantitative"},"y":{"field":"y","type":"quantitative"},"text":{"field":"t"}}},
 {"data":{"name":"drug"},"mark":{"type":"text","fontSize":8,"align":"left","color":"#444"},"encoding":{"x":{"field":"x","type":"quantitative"},"y":{"field":"y","type":"quantitative"},"text":{"field":"t"}}},
 {"data":{"name":"note"},"mark":{"type":"text","fontSize":8.5,"align":"center","color":"#444"},"encoding":{"x":{"field":"x","type":"quantitative"},"y":{"field":"y","type":"quantitative"},"text":{"field":"t"}}}
 ]}
],
"spacing":4
}
